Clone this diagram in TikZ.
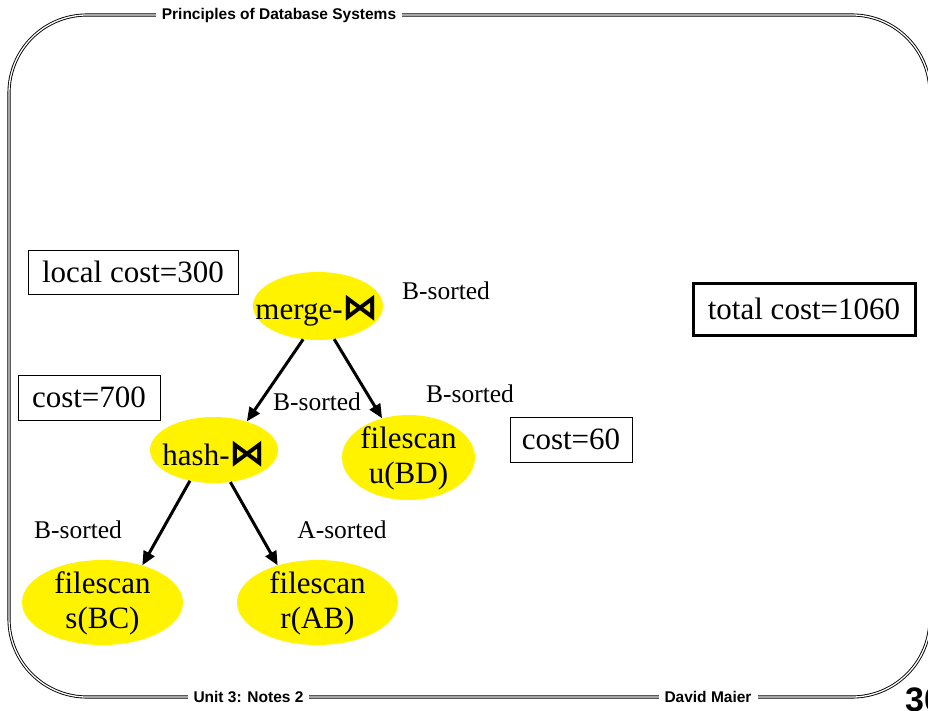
\documentclass[tikz,border=0pt]{standalone}
\usepackage{fontspec}
\setmainfont{Liberation Serif}
\newfontfamily\hdrfont{Liberation Sans}
\newfontfamily\bowfont{DejaVu Sans}
\usetikzlibrary{shapes.geometric,arrows.meta}
\definecolor{opyellow}{RGB}{255,243,0}
\newcommand{\bowsym}{{\bowfont\bfseries\fontsize{36}{36}\selectfont ⋈}}
\tikzset{
  frameline/.style={double, double distance=1.3pt, line width=0.9pt, rounded corners=78pt},
  hdrtext/.style={font=\hdrfont\bfseries\fontsize{15.5}{17}\selectfont, fill=white, inner xsep=6pt, inner ysep=3pt},
  opnode/.style={ellipse, fill=opyellow, inner sep=0pt},
  optext/.style={inner sep=0pt, align=center, font=\fontsize{31}{35}\selectfont},
  costbox/.style={draw, line width=1pt, inner sep=0pt, font=\fontsize{31}{35}\selectfont},
  sortlabel/.style={inner sep=0pt, font=\fontsize{25.5}{28}\selectfont},
  flow/.style={line width=3pt, -{Triangle[length=14pt,width=12pt]}}
}
\begin{document}
\begin{tikzpicture}[x=1pt,y=-1pt]
\useasboundingbox (0,0) rectangle (928,711);
\fill[white] (0,0) rectangle (928,711);
% frame
\draw[frameline] (9,15) rectangle (930,697);
\node[hdrtext] (title) at (279,15) {Principles of Database Systems};
\node[hdrtext] (unit) at (248.5,697) {Unit 3: Notes 2};
\node[hdrtext] (author) at (708,697) {David Maier};
\node[anchor=north west, inner sep=0pt, font=\hdrfont\bfseries\fontsize{34}{36}\selectfont] (page) at (905,688) {30};
% operator nodes
\node[opnode, minimum width=130pt, minimum height=68pt] (merge) at (318,306) {};
\node[optext] (mergetext) at (317,311) {merge-\bowsym};
\node[opnode, minimum width=128pt, minimum height=66pt] (hash) at (214,450) {};
\node[optext] (hashtext) at (214,454) {hash-\bowsym};
\node[opnode, minimum width=133pt, minimum height=85pt] (u) at (408.5,457.5) {};
\node[optext] (utext) at (408.5,458) {filescan\\u(BD)};
\node[opnode, minimum width=161pt, minimum height=85pt] (s) at (102.5,602.5) {};
\node[optext] (stext) at (102.5,603) {filescan\\s(BC)};
\node[opnode, minimum width=161pt, minimum height=85pt] (r) at (317.5,602.5) {};
\node[optext] (rtext) at (317.5,603) {filescan\\r(AB)};
% cost boxes
\node[costbox, minimum width=210pt, minimum height=44pt] (lc) at (133,272) {local cost=300};
\node[costbox, minimum width=142pt, minimum height=45pt] (c700) at (89,397.5) {cost=700};
\node[costbox, minimum width=122pt, minimum height=45pt] (c60) at (571,439.5) {cost=60};
\node[costbox, line width=3pt, minimum width=222pt, minimum height=52pt] (tc) at (804,309) {total cost=1060};
% sort labels
\node[sortlabel] (l1) at (446,291) {B-sorted};
\node[sortlabel] (l2) at (317,402) {B-sorted};
\node[sortlabel] (l3) at (470,394) {B-sorted};
\node[sortlabel] (l4) at (78,530) {B-sorted};
\node[sortlabel] (l5) at (342,530) {A-sorted};
% connectors
\draw[flow] (merge.-114) -- (hash.41);
\draw[flow] (merge.-64) -- (u.124);
\draw[flow] (hash.-128) -- (s.43);
\draw[flow] (hash.-63) -- (r.137);
\end{tikzpicture}
\end{document}
